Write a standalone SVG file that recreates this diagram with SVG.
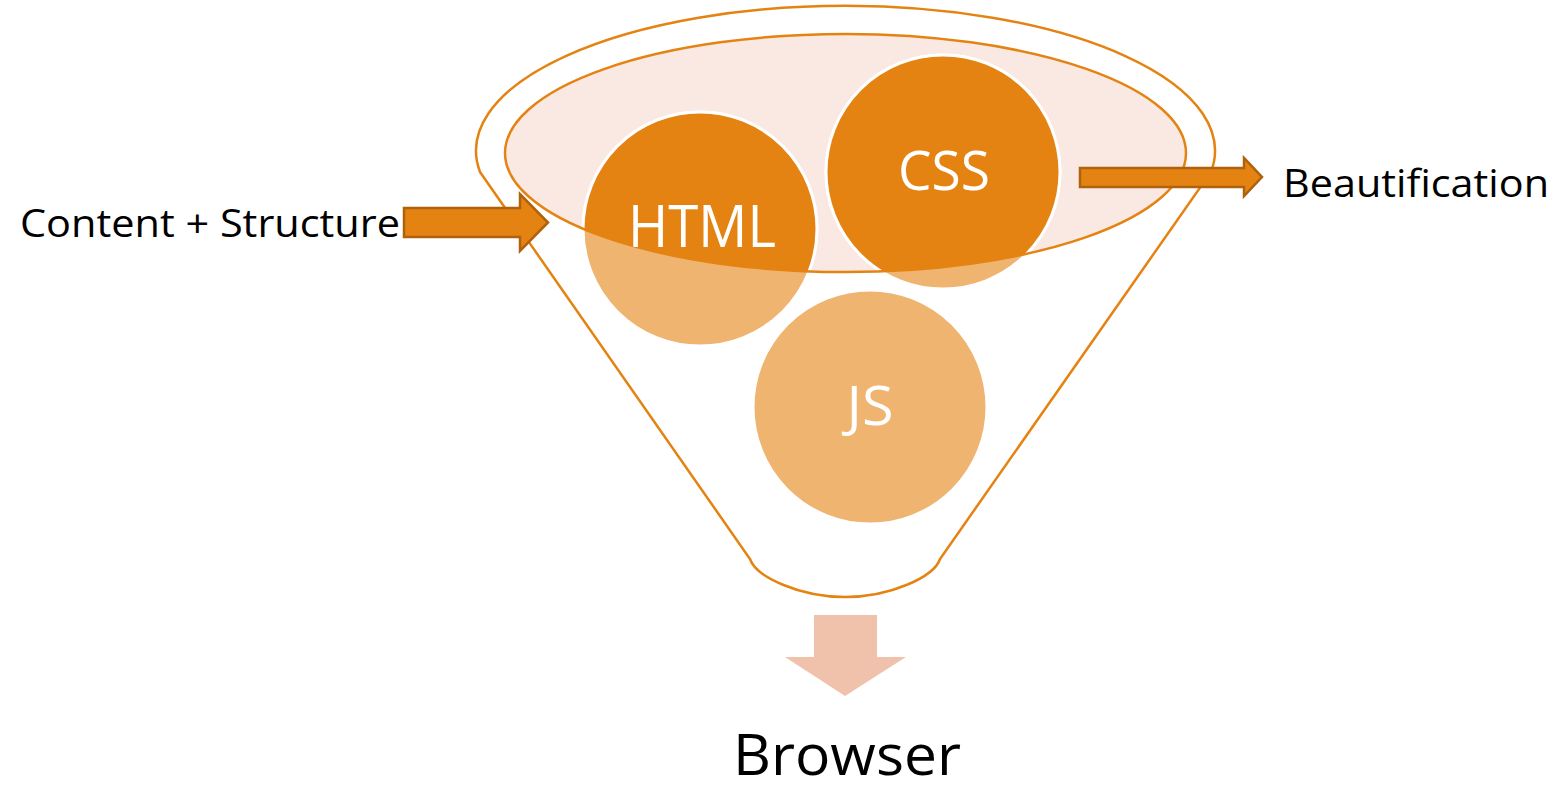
<svg xmlns="http://www.w3.org/2000/svg" width="1562" height="789" viewBox="0 0 1562 789">
<style>
.lbl{font-family:"Open Sans","Noto Sans","Liberation Sans",sans-serif;fill:#000}
.in{font-family:"Open Sans","Noto Sans","Liberation Sans",sans-serif;fill:#fff;text-anchor:middle}
.light{fill:#EFB470;stroke:#fff;stroke-width:3}
.dark{fill:#E48312;stroke:#fff;stroke-width:3}
.arr{fill:#E48312;stroke:#B0610E;stroke-width:2.5}
</style>
<defs>
<clipPath id="inner"><ellipse cx="845.5" cy="153" rx="340.5" ry="119"/></clipPath>
</defs>
<rect width="1562" height="789" fill="#fff"/>
<g id="funnel">
<path d="M480,172 L750,559 C756,577 800,597 845,597 C890,597 934,577 940,559 L1211,172 A369.5 145 0 1 0 480,172 Z" fill="#fff" stroke="#E48312" stroke-width="2.5"/>
<ellipse cx="845.5" cy="153" rx="340.5" ry="119" fill="#F9E9E2"/>
</g>
<g id="html">
<circle class="light" cx="700" cy="229" r="117"/>
<circle class="dark" cx="700" cy="229" r="117" clip-path="url(#inner)"/>
</g>
<g id="css">
<circle class="light" cx="943" cy="172" r="117"/>
<circle class="dark" cx="943" cy="172" r="117" clip-path="url(#inner)"/>
</g>
<g id="js">
<circle class="light" cx="870" cy="407" r="117"/>
</g>
<ellipse id="rim" cx="845.5" cy="153" rx="340.5" ry="119" fill="none" stroke="#E48312" stroke-width="2.5"/>
<text class="in" x="702" y="247" font-size="58" textLength="148" lengthAdjust="spacingAndGlyphs">HTML</text>
<text class="in" x="944" y="190" font-size="54" textLength="92" lengthAdjust="spacingAndGlyphs">CSS</text>
<text class="in" x="870" y="425" font-size="54" textLength="47" lengthAdjust="spacingAndGlyphs">JS</text>
<g id="connectors">
<path class="arr" d="M404,208 H520 V194 L548,222.5 L520,251 V237 H404 Z"/>
<path class="arr" d="M1080,168 H1244 V158 L1262,177 L1244,196 V187 H1080 Z"/>
<path d="M814,615 H877 V657 H906 L845,696 L785,657 H814 Z" fill="#F0C2AB"/>
</g>
<g id="labels">
<text class="lbl" x="20" y="237" font-size="38" textLength="380" lengthAdjust="spacingAndGlyphs">Content + Structure</text>
<text class="lbl" x="1283" y="197" font-size="38" textLength="266" lengthAdjust="spacingAndGlyphs">Beautification</text>
<text class="lbl" x="733" y="775" font-size="56" textLength="228" lengthAdjust="spacingAndGlyphs">Browser</text>
</g>
</svg>
